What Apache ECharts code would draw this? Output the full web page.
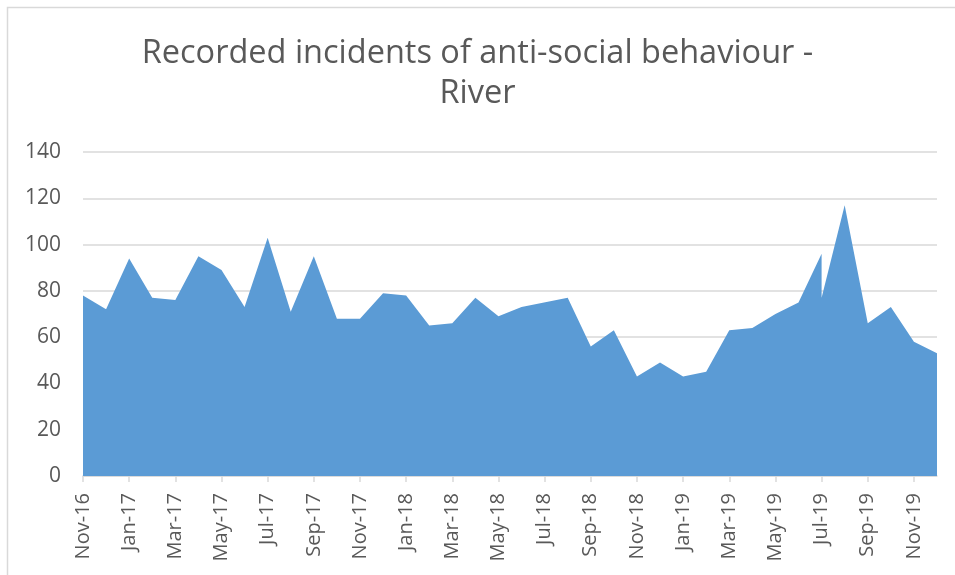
<!DOCTYPE html>
<html>
<head>
<meta charset="utf-8">
<script src="https://cdn.jsdelivr.net/npm/echarts@6/dist/echarts.min.js"></script>
<style>
html,body{margin:0;padding:0;background:#fff;}
#chart{width:955px;height:575px;}
</style>
</head>
<body>
<div id="chart"></div>
<script>
// Data points in order (Jul-19 appears twice, as in the source chart)
const months = ['Nov-16','Dec-16','Jan-17','Feb-17','Mar-17','Apr-17','May-17','Jun-17','Jul-17','Aug-17','Sep-17','Oct-17',
  'Nov-17','Dec-17','Jan-18','Feb-18','Mar-18','Apr-18','May-18','Jun-18','Aug-18','Sep-18','Oct-18',
  'Nov-18','Dec-18','Jan-19','Feb-19','Mar-19','Apr-19','May-19','Jun-19','Jul-19','Jul-19','Aug-19','Sep-19','Oct-19',
  'Nov-19','Dec-19'];
const incidents = [78,72,94,77,76,95,89,73,103,71,95,68,
  68,79,78,65,66,77,69,73,77,56,63,
  43,49,43,45,63,64,70,75,96,77,117,66,73,
  58,53];
const yTicks = [0,20,40,60,80,100,120,140];
const monthNames = ['Jan','Feb','Mar','Apr','May','Jun','Jul','Aug','Sep','Oct','Nov','Dec'];

const startYear = 2016, startMonth = 10; // Nov-16 = index 0
function toIndex(lbl){
  const [m,y] = lbl.split('-');
  return (2000 + parseInt(y,10) - startYear) * 12 + monthNames.indexOf(m) - startMonth;
}
function toLabel(idx){
  const total = startMonth + idx;
  const y = startYear + Math.floor(total/12);
  return monthNames[total % 12] + '-' + String(y).slice(2);
}
const seriesData = months.map((m,i)=>[toIndex(m), incidents[i]]);
const lastIdx = toIndex(months[months.length-1]);

const chart = echarts.init(document.getElementById('chart'));
const font = 'Open Sans';
chart.setOption({
  animation:false,
  backgroundColor:'#ffffff',
  title:{
    text:'Recorded incidents of anti-social behaviour -\nRiver',
    left:'center',
    top:34,
    padding:[0,0,0,18],
    textStyle:{fontFamily:font,fontSize:32.5,fontWeight:'normal',color:'#595959',lineHeight:40}
  },
  graphic:[{
    type:'rect', silent:true,
    shape:{x:7.5,y:7.5,width:980,height:600},
    style:{fill:'none',stroke:'#d9d9d9',lineWidth:1.5}
  }],
  grid:{left:83,right:18,top:152,bottom:99},
  xAxis:{
    type:'value', min:0, max:lastIdx, interval:2,
    axisLine:{show:true,lineStyle:{color:'#d9d9d9',width:1.5}},
    axisTick:{show:true,length:6,lineStyle:{color:'#d9d9d9',width:1.5}},
    splitLine:{show:false},
    axisLabel:{
      rotate:90, margin:17, color:'#595959', fontFamily:font, fontSize:20,
      formatter:(v)=> (v === lastIdx && v % 2 !== 0) ? '' : toLabel(v),
      showMaxLabel:false
    }
  },
  yAxis:{
    type:'value', min:yTicks[0], max:yTicks[yTicks.length-1], interval:yTicks[1]-yTicks[0],
    axisLine:{show:false}, axisTick:{show:false},
    splitLine:{lineStyle:{color:'#d9d9d9',width:1.5}},
    axisLabel:{color:'#595959',fontFamily:font,fontSize:21,margin:22}
  },
  series:[{
    type:'line',
    data:seriesData,
    symbol:'none',
    lineStyle:{width:0},
    areaStyle:{color:'#5b9bd5',opacity:1},
    z:1
  }]
});
</script>
</body>
</html>
